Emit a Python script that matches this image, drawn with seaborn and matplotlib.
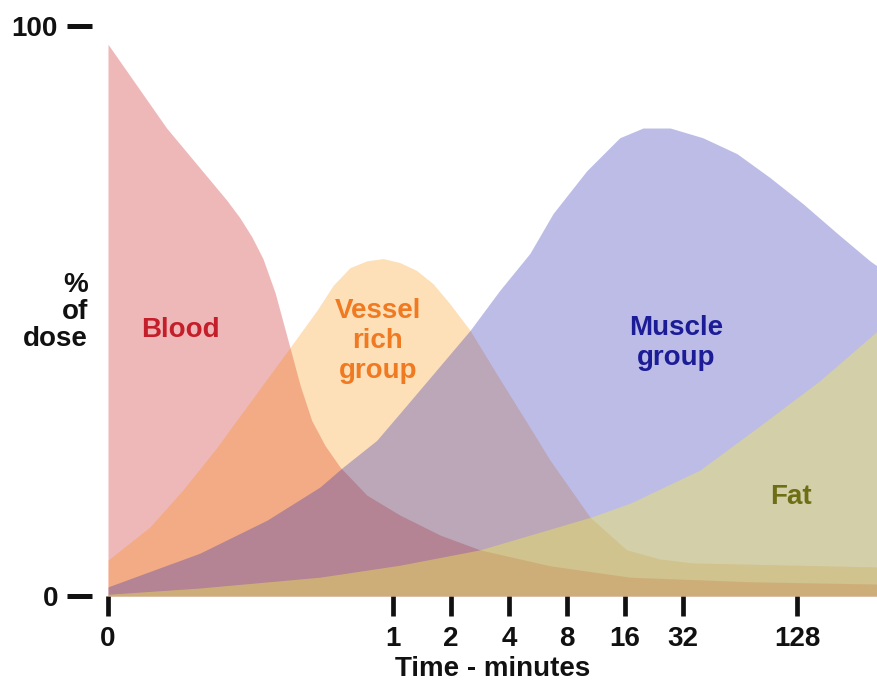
import numpy as np
import matplotlib
matplotlib.use("Agg")
import matplotlib.pyplot as plt
import seaborn as sns

# Eje x en unidades log2(minutos); el "0" se coloca a la izquierda en -4.91
tick_pos = [-4.91, 0, 1, 2, 3, 4, 5, 6.97]
tick_labels = ["0", "1", "2", "4", "8", "16", "32", "128"]

# Curvas (% de la dosis)
blood_x = [-4.91, -3.90, -2.86, -2.64, -2.43, -2.24, -2.03, -1.83, -1.60, -1.40, -1.17, -0.91, -0.45,
           0.12, 0.81, 1.50, 2.71, 4.09, 6.16, 8.36]
blood_y = [96.8, 82.1, 69.4, 66.4, 63.0, 59.2, 53.2, 45.7, 37.0, 30.8, 26.4, 22.6, 17.7,
           14.2, 10.7, 8.1, 5.3, 3.3, 2.5, 2.1]

vrg_x = [-4.91, -4.19, -3.62, -3.03, -2.76, -2.47, -2.14, -1.83, -1.31, -1.03, -0.74, -0.45, -0.17,
         0.12, 0.41, 0.69, 0.98, 1.33, 1.84, 2.36, 2.71, 3.40, 3.74, 4.03, 4.60, 5.17, 8.36]
vrg_y = [6.3, 12.1, 18.6, 26.1, 29.9, 33.9, 38.5, 42.8, 50.1, 54.5, 57.6, 58.8, 59.2,
         58.5, 57.1, 54.8, 51.3, 46.6, 38.1, 29.6, 23.8, 13.8, 10.7, 8.1, 6.5, 5.8, 5.1]

muscle_x = [-4.91, -3.33, -2.17, -1.26, -0.86, -0.28, 0.24, 1.33, 1.84, 2.36, 2.76, 3.34, 3.91, 4.31,
            4.78, 5.34, 5.93, 6.50, 7.07, 7.66, 8.22, 8.36]
muscle_y = [1.6, 7.5, 13.3, 19.1, 22.6, 27.3, 33.5, 46.6, 53.6, 60.1, 67.1, 74.6, 80.4, 82.1,
            82.1, 80.4, 77.6, 73.4, 68.8, 63.6, 58.8, 57.8]

fat_x = [-4.91, -3.33, -1.26, 0.12, 1.50, 3.40, 4.09, 5.29, 6.33, 7.36, 8.36]
fat_y = [0.3, 1.4, 3.3, 5.4, 8.1, 13.8, 16.3, 22.1, 29.9, 37.8, 46.6]

sns.set_style("white")
plt.rcParams['font.family'] = ['Liberation Sans', 'DejaVu Sans']
plt.rcParams['font.weight'] = 'bold'
plt.rcParams['text.color'] = '#111111'

fig = plt.figure(figsize=(8.78, 6.81), dpi=100)
ax = fig.add_axes([108/878, 85/681, 770/878, 570/681])

# Capas en orden: sangre, grupo rico en vasos, musculo, grasa
ax.fill_between(blood_x, 0, blood_y, color=(205/255, 22/255, 22/255), alpha=0.3, lw=0)
ax.fill_between(vrg_x, 0, vrg_y, color=(250/255, 140/255, 0), alpha=0.28, lw=0)
ax.fill_between(muscle_x, 0, muscle_y, color=(49/255, 49/255, 183/255), alpha=0.32, lw=0)
ax.fill_between(fat_x, 0, fat_y, color=(241/255, 234/255, 85/255), alpha=0.42, lw=0)

fs = 20
ax.text(-3.67, 46.6, "Blood", color="#c41e2a", fontsize=fs, fontweight="bold", ha="center", va="center")
ax.text(-0.26, 44.7, "Vessel\nrich\ngroup", color="#f07a22", fontsize=fs, fontweight="bold",
        ha="center", va="center", linespacing=1.2)
ax.text(4.88, 44.3, "Muscle\ngroup", color="#1c1c96", fontsize=fs, fontweight="bold",
        ha="center", va="center", linespacing=1.2)
ax.text(6.86, 17.3, "Fat", color="#6e6e14", fontsize=fs, fontweight="bold", ha="center", va="center")

ax.set_xlim(-4.91, 8.36)
ax.set_ylim(0, 100)
ax.set_xticks(tick_pos)
ax.set_xticklabels(tick_labels)
ax.set_yticks([0, 100])
ax.set_yticklabels(["0", "100"])

for s in ax.spines.values():
    s.set_visible(False)
ax.spines['left'].set_position(('outward', 11.5))
ax.tick_params(axis='x', direction='out', length=14.5, width=3.4, pad=7, labelsize=fs,
               bottom=True, color='#111111', labelcolor='#111111')
ax.tick_params(axis='y', direction='out', length=18, width=3.6, pad=6.5, labelsize=fs,
               left=True, color='#111111', labelcolor='#111111')

ax.set_xlabel("Time - minutes", fontsize=fs, fontweight="bold", labelpad=3, color='#111111')
fig.text(88/878, 1 - 312/681, "%\nof\ndose", fontsize=fs, fontweight="bold",
         ha="right", va="center", linespacing=1.06)

fig.savefig("out.png", dpi=100)
